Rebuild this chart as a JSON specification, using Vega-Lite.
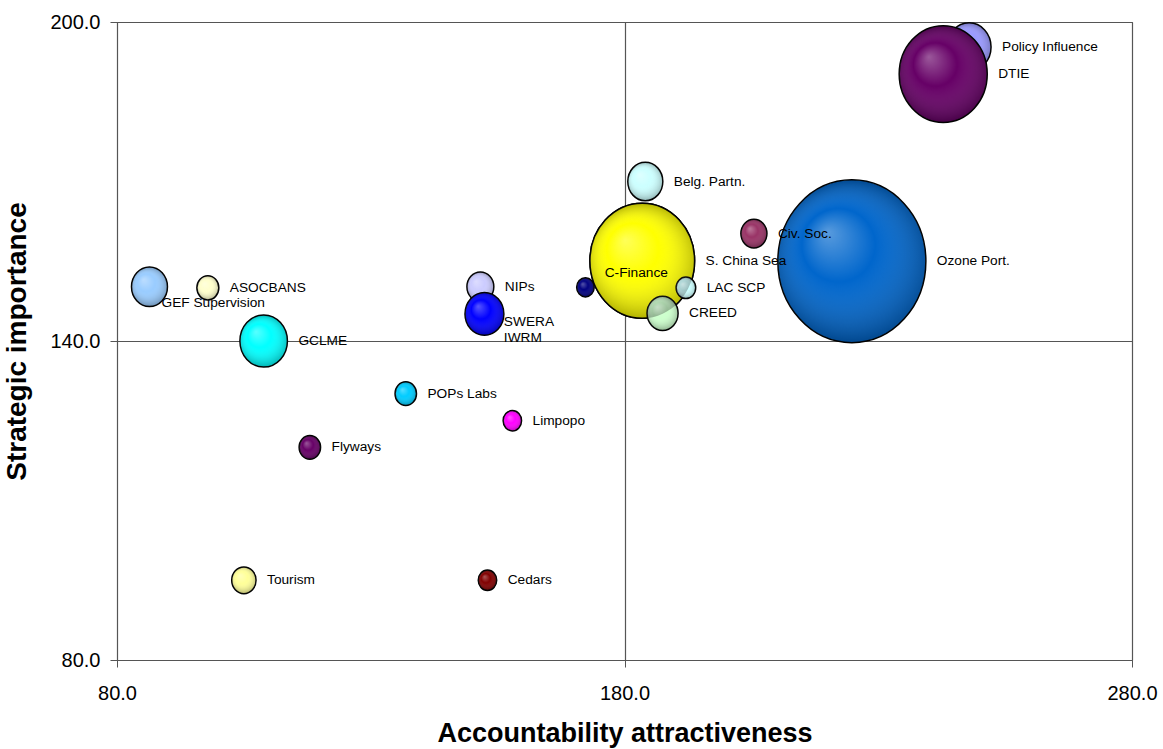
{
  "$schema": "https://vega.github.io/schema/vega-lite/v6.json",
  "width": 1015,
  "height": 638,
  "autosize": {"type": "none"},
  "padding": {"left": 117, "top": 22, "right": 31, "bottom": 89},
  "background": "white",
  "config": {
    "font": "Liberation Sans",
    "view": {"stroke": "#444", "strokeWidth": 1},
    "axis": {
      "labelFont": "Liberation Sans",
      "titleFont": "Liberation Sans",
      "labelColor": "#000",
      "titleColor": "#000",
      "labelFlush": false,
      "labelOverlap": false,
      "domain": false,
      "tickColor": "#555",
      "tickSize": 7,
      "grid": true,
      "gridColor": "#555",
      "gridOpacity": 1,
      "gridWidth": 1.2
    }
  },
  "data": {
    "values": [
      {"name": "Policy Influence", "label": "Policy Influence", "group": "back", "x": 247.9, "y": 195.3, "weight": 8.8},
      {"name": "NIPs", "label": "NIPs", "group": "back", "x": 151.6, "y": 150.2, "weight": 3.3},
      {"name": "S. China Sea", "label": "S. China Sea", "group": "back", "x": 183.5, "y": 155.1, "weight": 50},
      {"name": "DTIE", "label": "DTIE", "group": "front", "x": 242.8, "y": 190.2, "weight": 35.4},
      {"name": "SWERA", "label": "SWERA\nIWRM", "group": "front", "x": 152.4, "y": 145.1, "weight": 6.9},
      {"name": "C-Finance", "label": "C-Finance", "group": "front", "x": 183.5, "y": 155.1, "weight": 50},
      {"name": "Ozone Port.", "label": "Ozone Port.", "group": "front", "x": 224.8, "y": 155.0, "weight": 100},
      {"name": "Belg. Partn.", "label": "Belg. Partn.", "group": "front", "x": 184.1, "y": 170.0, "weight": 5.6},
      {"name": "LAC SCP", "label": "LAC SCP", "group": "front", "x": 192.1, "y": 150.0, "weight": 1.75},
      {"name": "CREED", "label": "CREED", "group": "front", "x": 187.5, "y": 145.2, "weight": 4.4},
      {"name": "Civ. Soc.", "label": "Civ. Soc.", "group": "front", "x": 205.5, "y": 160.2, "weight": 3.1},
      {"name": "(unlabelled)", "label": "", "group": "front", "x": 172.3, "y": 150.1, "weight": 1.4},
      {"name": "GEF Supervision", "label": "GEF Supervision", "group": "front", "x": 86.4, "y": 150.2, "weight": 5.9},
      {"name": "ASOCBANS", "label": "ASOCBANS", "group": "front", "x": 97.9, "y": 150.0, "weight": 2.2},
      {"name": "GCLME", "label": "GCLME", "group": "front", "x": 108.9, "y": 140.0, "weight": 10.3},
      {"name": "POPs Labs", "label": "POPs Labs", "group": "front", "x": 136.9, "y": 130.1, "weight": 2.1},
      {"name": "Limpopo", "label": "Limpopo", "group": "front", "x": 157.9, "y": 125.0, "weight": 1.55},
      {"name": "Flyways", "label": "Flyways", "group": "front", "x": 118.0, "y": 120.0, "weight": 2.1},
      {"name": "Tourism", "label": "Tourism", "group": "front", "x": 105.0, "y": 95.0, "weight": 2.7},
      {"name": "Cedars", "label": "Cedars", "group": "front", "x": 153.0, "y": 95.0, "weight": 1.55}
    ]
  },
  "encoding": {
    "x": {
      "field": "x", "type": "quantitative",
      "scale": {"domain": [80, 280], "nice": false, "zero": false},
      "axis": {
        "values": [80, 180, 280], "format": ".1f",
        "labelFontSize": 20, "labelPadding": 16,
        "title": "Accountability attractiveness",
        "titleFontSize": 27, "titleFontWeight": "bold", "titlePadding": 17
      }
    },
    "y": {
      "field": "y", "type": "quantitative",
      "scale": {"domain": [80, 200], "nice": false, "zero": false},
      "axis": {
        "values": [80, 140, 200], "format": ".1f",
        "labelFontSize": 20, "labelPadding": 10,
        "title": "Strategic importance",
        "titleFontSize": 28, "titleFontWeight": "bold", "titlePadding": 18
      }
    }
  },
  "layer": [
    {
      "transform": [{"filter": "datum.group === 'back'"}],
      "mark": {"type": "point", "filled": true, "shape": "M -1 0 A 1 1.1 0 1 1 1 0 A 1 1.1 0 1 1 -1 0 Z", "stroke": "#000", "strokeWidth": 1.5, "opacity": 1, "fillOpacity": 1, "strokeOpacity": 1},
      "encoding": {
        "fill": {"field": "name", "type": "nominal", "legend": null,
          "scale": {
            "domain": ["Policy Influence", "NIPs", "S. China Sea", "DTIE", "SWERA", "C-Finance", "Ozone Port.", "Belg. Partn.", "LAC SCP", "CREED", "Civ. Soc.", "(unlabelled)", "GEF Supervision", "ASOCBANS", "GCLME", "POPs Labs", "Limpopo", "Flyways", "Tourism", "Cedars"],
            "range": ["#9999FF", "#CCCCFF", "#FFFF00", "#660066", "#0000FF", "#FFFF00", "#0066CC", "#CCFFFF", "#CCFFFF", "#CCFFCC", "#993366", "#000080", "#99CCFF", "#FFFFCC", "#00FFFF", "#00CCFF", "#FF00FF", "#660066", "#FFFF99", "#800000"]
          }
        },
        "size": {"field": "weight", "type": "quantitative", "legend": null, "scale": {"type": "linear", "domain": [0, 100], "range": [0, 21904], "zero": true}}
      }
    },
    {
      "transform": [{"filter": "datum.group === 'back'"}],
      "mark": {"type": "point", "filled": true, "shape": "M -1 0 A 1 1.1 0 1 1 1 0 A 1 1.1 0 1 1 -1 0 Z", "strokeOpacity": 0, "opacity": 1,
        "fill": {"gradient": "radial", "x1": 0.35, "y1": 0.32, "r1": 0, "x2": 0.5, "y2": 0.5, "r2": 0.5,
          "stops": [{"offset": 0, "color": "rgba(255,255,255,0.35)"}, {"offset": 0.45, "color": "rgba(255,255,255,0)"}, {"offset": 1, "color": "rgba(0,0,0,0.3)"}]}},
      "encoding": {
        "size": {"field": "weight", "type": "quantitative", "legend": null, "scale": {"type": "linear", "domain": [0, 100], "range": [0, 21904], "zero": true}}
      }
    },
    {
      "transform": [{"filter": "datum.group === 'front'"}],
      "mark": {"type": "point", "filled": true, "shape": "M -1 0 A 1 1.1 0 1 1 1 0 A 1 1.1 0 1 1 -1 0 Z", "stroke": "#000", "strokeWidth": 1.5, "opacity": 1, "fillOpacity": 1, "strokeOpacity": 1},
      "encoding": {
        "fill": {"field": "name", "type": "nominal", "legend": null},
        "size": {"field": "weight", "type": "quantitative", "legend": null}
      }
    },
    {
      "transform": [{"filter": "datum.group === 'front'"}],
      "mark": {"type": "point", "filled": true, "shape": "M -1 0 A 1 1.1 0 1 1 1 0 A 1 1.1 0 1 1 -1 0 Z", "strokeOpacity": 0, "opacity": 1,
        "fill": {"gradient": "radial", "x1": 0.35, "y1": 0.32, "r1": 0, "x2": 0.5, "y2": 0.5, "r2": 0.5,
          "stops": [{"offset": 0, "color": "rgba(255,255,255,0.35)"}, {"offset": 0.45, "color": "rgba(255,255,255,0)"}, {"offset": 1, "color": "rgba(0,0,0,0.3)"}]}},
      "encoding": {
        "size": {"field": "weight", "type": "quantitative", "legend": null}
      }
    },
    {
      "transform": [{"filter": "datum.label !== '' && datum.name !== 'GEF Supervision' && datum.name !== 'SWERA' && datum.name !== 'C-Finance'"}],
      "mark": {"type": "text", "align": "left", "baseline": "middle", "dx": {"expr": "11 + 74 * sqrt(datum.weight / 100)"}, "fontSize": 13.7, "color": "#000"},
      "encoding": {
        "text": {"field": "label", "type": "nominal"}
      }
    },
    {
      "transform": [{"filter": "datum.name === 'SWERA'"}],
      "mark": {"type": "text", "align": "left", "baseline": "middle", "dx": {"expr": "74 * sqrt(datum.weight / 100)"}, "dy": 8, "lineBreak": "\n", "lineHeight": 16, "fontSize": 13.7, "color": "#000"},
      "encoding": {
        "text": {"field": "label", "type": "nominal"}
      }
    },
    {
      "transform": [{"filter": "datum.name === 'GEF Supervision'"}],
      "mark": {"type": "text", "align": "left", "baseline": "middle", "dx": 12, "dy": 16, "fontSize": 13.7, "color": "#000"},
      "encoding": {"text": {"field": "label", "type": "nominal"}}
    },
    {
      "transform": [{"filter": "datum.name === 'C-Finance'"}],
      "mark": {"type": "text", "align": "center", "baseline": "middle", "dx": -6, "dy": 12, "fontSize": 13.7, "color": "#000"},
      "encoding": {"text": {"field": "label", "type": "nominal"}}
    }
  ]
}
